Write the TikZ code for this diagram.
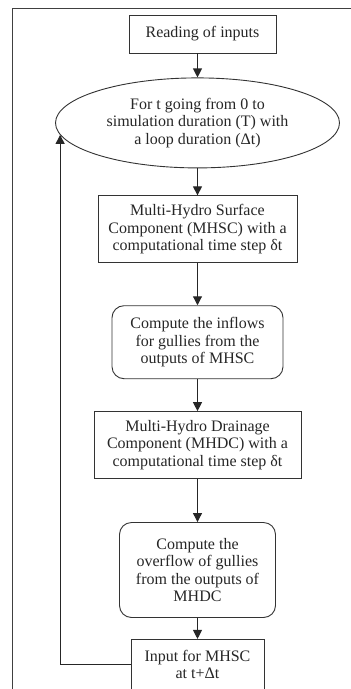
\documentclass[tikz,border=0pt]{standalone}
\usepackage{fontspec}
\setmainfont{Liberation Serif}
\usetikzlibrary{shapes.geometric, arrows.meta, positioning}

\begin{document}
\begin{tikzpicture}[
        auto,
        % styles
        stepbox/.style={rectangle, draw=black!80, line width=0.9pt, text=black!85, align=center, inner sep=3pt,
            font=\fontsize{16}{17.5}\selectfont},
        calcbox/.style={stepbox, rounded corners=12pt},
        loopnode/.style={ellipse, draw=black!80, line width=0.9pt, text=black!85, align=center, inner sep=0pt,
            minimum width=284pt, minimum height=90pt, font=\fontsize{16}{17.5}\selectfont},
        arrow/.style={line width=1.1pt, draw=black!85, -{Triangle[length=9pt,width=9pt]}},
        frame/.style={line width=1pt, draw=black!75} ]

    \useasboundingbox (0pt,0pt) rectangle (351pt,-689pt);
    \clip (0pt,0pt) rectangle (351pt,-689pt);

    % --- outer frame (cut by the page on the right and below) ---
    \draw [frame] (12pt,-8pt) rectangle (400pt,-720pt);

    % --- MAIN COLUMN ---
    \node (start) [stepbox, minimum width=147pt, minimum height=38pt] at (202.5pt,-34pt) {Reading of inputs};
    \node (loop)  [loopnode, below=24pt of start, xshift=-5pt] {For t going from 0 to\\simulation duration (T) with\\a loop duration (Δt)};
    \node (mhsc)  [stepbox, below=27pt of loop, minimum width=199pt, minimum height=67pt] {Multi-Hydro Surface\\Component (MHSC) with a\\computational time step δt};
    \node (inflow) [calcbox, below=42pt of mhsc, minimum width=171pt, minimum height=73pt] {Compute the inflows\\for gullies from the\\outputs of MHSC};
    \node (mhdc)  [stepbox, below=32pt of inflow, minimum width=207pt, minimum height=67pt] {Multi-Hydro Drainage\\Component (MHDC) with a\\computational time step δt};
    \node (overflow) [calcbox, below=43pt of mhdc, minimum width=156pt, minimum height=95pt] {Compute the\\overflow of gullies\\from the outputs of\\MHDC};
    \node (next)  [stepbox, below=21pt of overflow, minimum width=133pt, minimum height=50pt] {Input for MHSC\\at t+Δt};

    % --- CONNECTIONS ---
    \draw [arrow] (start.south -| loop.north) -- (loop);
    \draw [arrow] (loop) -- (mhsc);
    \draw [arrow] (mhsc) -- (inflow);
    \draw [arrow] (inflow) -- (mhdc);
    \draw [arrow] (mhdc) -- (overflow);
    \draw [arrow] (overflow) -- (next);

    % Feedback loop to the next time step
    \draw [arrow] (next.west) -| (loop.185);

\end{tikzpicture}
\end{document}
